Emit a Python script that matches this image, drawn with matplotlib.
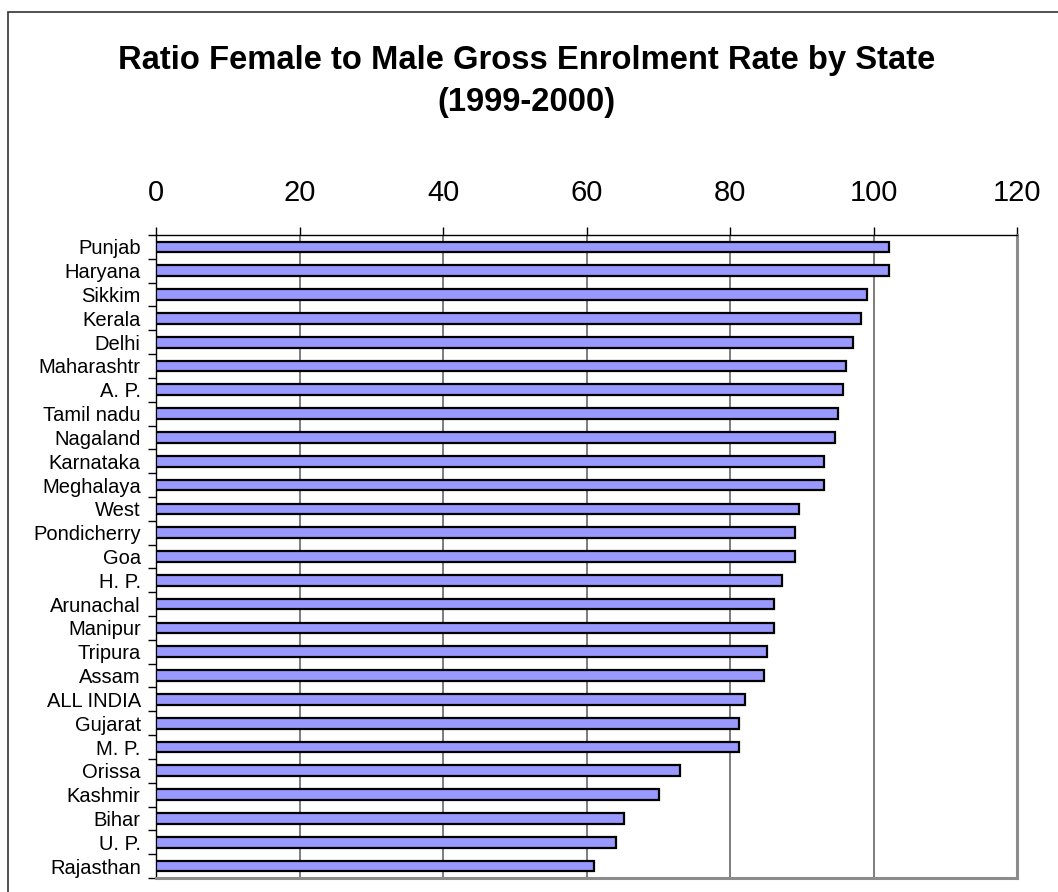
import matplotlib
matplotlib.use("Agg")
import matplotlib.pyplot as plt
from matplotlib.patches import Rectangle
import numpy as np

plt.rcParams["font.family"] = ["Liberation Sans", "DejaVu Sans"]

# data, top to bottom as drawn
states = ["Punjab", "Haryana", "Sikkim", "Kerala", "Delhi", "Maharashtr", "A. P.",
          "Tamil nadu", "Nagaland", "Karnataka", "Meghalaya", "West", "Pondicherry",
          "Goa", "H. P.", "Arunachal", "Manipur", "Tripura", "Assam", "ALL INDIA",
          "Gujarat", "M. P.", "Orissa", "Kashmir", "Bihar", "U. P.", "Rajasthan"]
ratio = [102.2, 102.2, 99.1, 98.2, 97.2, 96.2, 95.7,
         95.1, 94.7, 93.1, 93.1, 89.6, 89.1,
         89.1, 87.2, 86.1, 86.1, 85.1, 84.7, 82.1,
         81.2, 81.2, 73.1, 70.1, 65.2, 64.1, 61.1]
xticks = [0, 20, 40, 60, 80, 100, 120]

BAR = "#9999FF"
GRIDC = "#5A5A5A"

fig = plt.figure(figsize=(10.58, 8.92), dpi=100)
ax = fig.add_axes([156 / 1058, 1 - 878 / 892, (1017 - 156) / 1058, (878 - 235) / 892])

n = len(states)
y = np.arange(n)
ax.barh(y, ratio, height=0.45, color=BAR, edgecolor="black", linewidth=1.6, zorder=3)

ax.set_xlim(0, 120)
ax.set_ylim(n - 0.5, -0.5)
ax.xaxis.tick_top()
ax.set_xticks(xticks)
ax.set_xticklabels([str(v) for v in xticks], fontsize=21)
ax.tick_params(axis="x", which="major", direction="out", length=6, width=1,
               color="black", pad=14)
ax.xaxis.grid(True, color=GRIDC, linewidth=1.1, zorder=0)

ax.set_yticks(y)
ax.set_yticklabels(states, fontsize=14.5)
ax.set_yticks(np.arange(-0.5, n, 1.0), minor=True)
ax.tick_params(axis="y", which="major", length=0, pad=11)
ax.tick_params(axis="y", which="minor", direction="out", length=6, width=1, color="black")

for side in ("top", "left"):
    ax.spines[side].set_color("black")
    ax.spines[side].set_linewidth(1.0)
for side in ("right", "bottom"):
    ax.spines[side].set_color("#8C8C8C")
    ax.spines[side].set_linewidth(2.2)

fig.text(0.498, 1 - 60 / 892, "Ratio Female to Male Gross Enrolment Rate by State",
         ha="center", va="center", fontsize=23.6, fontweight="bold")
fig.text(0.498, 1 - 102 / 892, "(1999-2000)",
         ha="center", va="center", fontsize=23.6, fontweight="bold")

# outer chart border (only left and top edges fall inside the picture)
fig.patches.append(Rectangle((8 / 1058, -0.5), 2.0, 1.5 - 12 / 892,
                             transform=fig.transFigure, fill=False,
                             edgecolor="#333333", linewidth=1.2))

fig.savefig("out.png", dpi=100, facecolor="white")
